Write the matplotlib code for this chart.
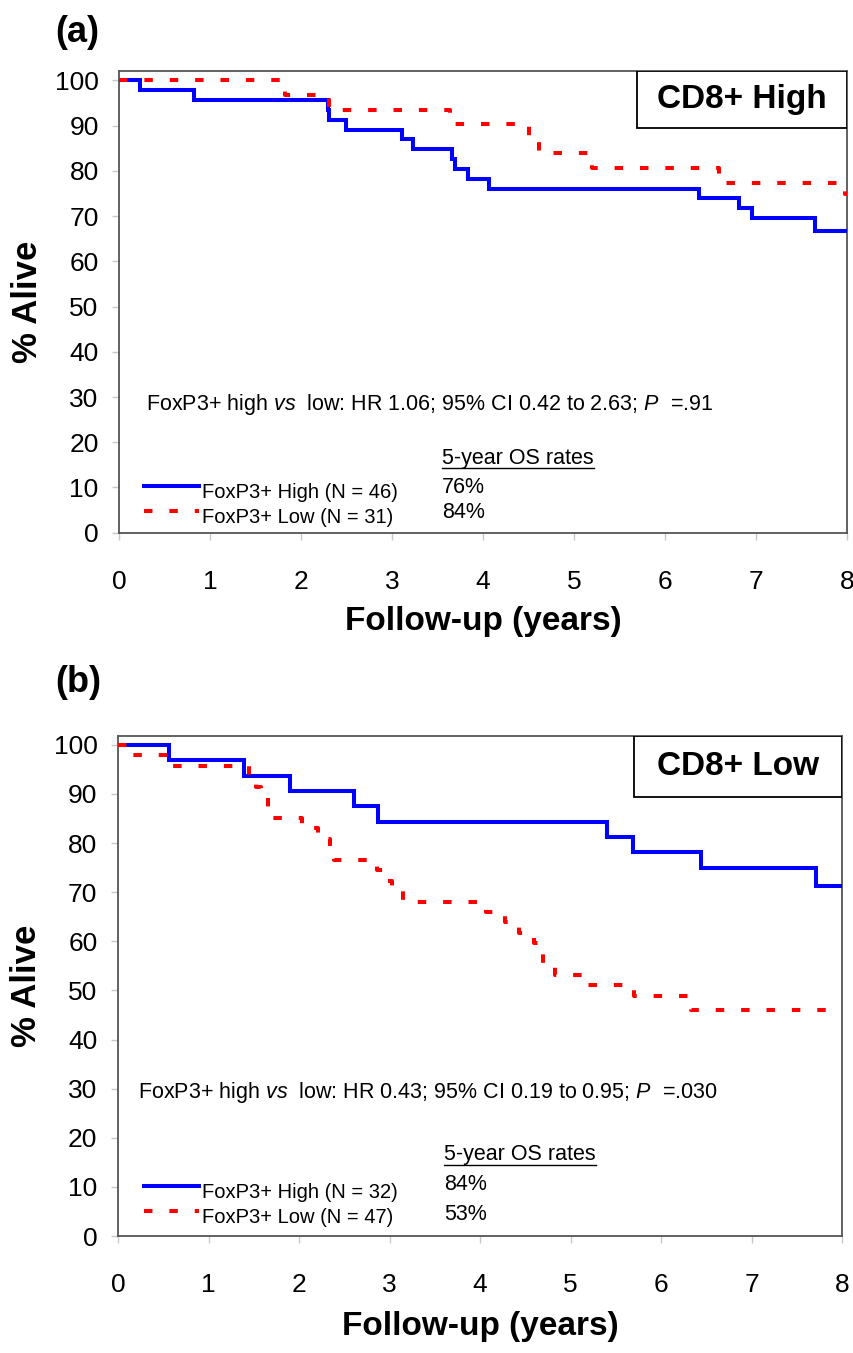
import matplotlib
matplotlib.use("Agg")
import matplotlib.pyplot as plt
from matplotlib.patches import Rectangle
from matplotlib.lines import Line2D

plt.rcParams['font.family'] = ['Liberation Sans', 'DejaVu Sans']
plt.rcParams['mathtext.fontset'] = 'custom'
plt.rcParams['mathtext.rm'] = 'Liberation Sans'
plt.rcParams['mathtext.it'] = 'Liberation Sans:italic'

# ---- data ----
# (a) CD8+ High
a_high_t = [0, 0.23, 0.82, 2.29, 2.31, 2.49, 3.11, 3.23, 3.66, 3.69, 3.83, 4.06, 6.38, 6.82, 6.96, 7.65, 8.0]
a_high_s = [100, 97.83, 95.65, 93.48, 91.30, 89.13, 86.96, 84.78, 82.61, 80.43, 78.26, 76.09, 73.91, 71.74, 69.57, 66.8, 66.8]
a_low_t = [0, 1.82, 2.31, 3.64, 4.51, 4.62, 5.20, 6.60, 7.98, 8.0]
a_low_s = [100, 96.77, 93.55, 90.32, 87.10, 83.87, 80.65, 77.42, 74.8, 74.8]

# (b) CD8+ Low
b_high_t = [0, 0.565, 1.39, 1.90, 2.61, 2.87, 5.40, 5.69, 6.44, 7.71, 8.0]
b_high_s = [100, 96.88, 93.75, 90.63, 87.5, 84.38, 81.25, 78.13, 75.0, 71.2, 71.2]
b_low_t = [0, 0.12, 0.57, 1.45, 1.52, 1.58, 1.66, 1.71, 2.03, 2.21, 2.34, 2.38,
           2.86, 2.95, 3.03, 3.15, 4.07, 4.27, 4.43, 4.60, 4.65, 4.69, 4.83,
           5.14, 5.70, 6.33, 8.0]
b_low_s = [100, 97.87, 95.74, 93.62, 91.49, 89.36, 87.23, 85.11, 82.98, 80.85, 78.72, 76.60,
           74.47, 72.34, 70.21, 68.09, 65.96, 63.83, 61.70, 59.57, 57.45, 55.32, 53.19,
           51.06, 48.94, 46.0, 46.0]

a_labels = ["FoxP3+ High (N = 46)", "FoxP3+ Low (N = 31)"]
a_rates = ["76%", "84%"]
b_labels = ["FoxP3+ High (N = 32)", "FoxP3+ Low (N = 47)"]
b_rates = ["84%", "53%"]

a_stats = r"FoxP3+ high $\mathit{vs}$  low: HR 1.06; 95% CI 0.42 to 2.63; $\mathit{P}$  =.91"
b_stats = r"FoxP3+ high $\mathit{vs}$  low: HR 0.43; 95% CI 0.19 to 0.95; $\mathit{P}$  =.030"

x_ticks = list(range(0, 9))
y_ticks = list(range(0, 101, 10))

W, H = 854, 1353
fig = plt.figure(figsize=(W / 100, H / 100), dpi=100)


def px_axes(left, right, top, bottom):
    return [left / W, 1 - bottom / H, (right - left) / W, (bottom - top) / H]


headers = []


def draw_panel(ax, th, sh, tl, sl, labels, rates, stats, title, ytop, box_bottom,
               xlabel_y, stats_pos, leg_x, rate_x, row_y):
    ax.plot(th, sh, drawstyle="steps-post", color="#0000ff", lw=2.9,
            solid_joinstyle="miter", zorder=3, label=labels[0])
    ax.plot(tl, sl, drawstyle="steps-post", color="#ff0000", lw=2.9,
            linestyle=(0, (2.1, 4.2)), zorder=4, label=labels[1])
    ax.set_xlim(0, 8)
    ax.set_ylim(0, ytop)
    ax.set_xticks(x_ticks)
    ax.set_yticks(y_ticks)
    ax.tick_params(axis="both", direction="out", length=5, width=1,
                   color="#c8c8c8", labelsize=19)
    ax.tick_params(axis="x", pad=22)
    ax.tick_params(axis="y", pad=10)
    for sp in ax.spines.values():
        sp.set_color("#555555")
        sp.set_linewidth(1.3)
    ax.set_xlabel("Follow-up (years)", fontsize=24, fontweight="bold", va="center")
    ax.xaxis.set_label_coords(0.5, xlabel_y)
    ax.set_ylabel("% Alive", fontsize=25, fontweight="bold", va="center")
    ax.yaxis.set_label_coords(-0.1265, 0.5)

    # title box in the upper right corner
    ax.add_patch(Rectangle((0.712, box_bottom), 0.288, 1 - box_bottom, transform=ax.transAxes,
                           facecolor="white", edgecolor="black", lw=1.3, zorder=5))
    ax.text(0.856, (1 + box_bottom) / 2, title, transform=ax.transAxes, ha="center",
            va="center", fontsize=24, fontweight="bold", zorder=6)

    ax.text(stats_pos[0], stats_pos[1], stats, ha="left", va="center", fontsize=15.5)

    leg = ax.legend(loc="center left", bbox_to_anchor=(leg_x, (row_y[1] + row_y[2]) / 2 / ytop),
                    frameon=False, fontsize=14.5, handlelength=2.7, handletextpad=0.15,
                    borderpad=0, borderaxespad=0, labelspacing=0.3)
    for t in leg.get_texts():
        t.set_va("center")

    hdr = ax.text(rate_x, row_y[0], "5-year OS rates", ha="left", va="center", fontsize=15.5)
    headers.append(hdr)
    for r, y in zip(rates, row_y[1:]):
        ax.text(rate_x, y, r, ha="left", va="center", fontsize=15.5)


ax_a = fig.add_axes(px_axes(119.5, 846.7, 71, 532.7))
draw_panel(ax_a, a_high_t, a_high_s, a_low_t, a_low_s, a_labels, a_rates, a_stats,
           "CD8+ High", 102.1, 0.8766, -0.1934, (0.29, 28.3), 0.034, 3.55, (16.5, 10.1, 4.4))

ax_b = fig.add_axes(px_axes(118.3, 842, 736, 1236))
draw_panel(ax_b, b_high_t, b_high_s, b_low_t, b_low_s, b_labels, b_rates, b_stats,
           "CD8+ Low", 101.8, 0.879, -0.182, (0.22, 29.3), 0.036, 3.60, (16.5, 10.4, 4.3))

fig.text(77.5 / W, 1 - 33 / H, "(a)", ha="center", va="center", fontsize=26, fontweight="bold")
fig.text(78 / W, 1 - 683 / H, "(b)", ha="center", va="center", fontsize=26, fontweight="bold")

# underline the "5-year OS rates" headers
fig.canvas.draw()
inv = fig.transFigure.inverted()
for hdr in headers:
    bb = hdr.get_window_extent().transformed(inv)
    fig.add_artist(Line2D([bb.x0, bb.x1], [bb.y0 + 0.0005, bb.y0 + 0.0005],
                          transform=fig.transFigure, color="black", lw=1.0))

fig.savefig("out.png", dpi=100)
